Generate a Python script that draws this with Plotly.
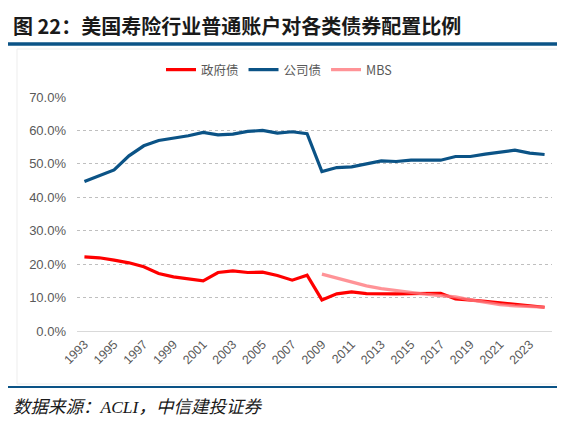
import plotly.graph_objects as go

years = list(range(1993, 2025))
gov = [22.2, 21.9, 21.2, 20.4, 19.2, 17.2, 16.2, 15.6, 15.0, 17.5, 18.0, 17.5, 17.6, 16.6, 15.2, 16.7,
       9.3, 11.1, 11.7, 11.2, 11.1, 11.1, 11.2, 11.3, 11.3, 9.6, 9.3, 8.9, 8.4, 8.0, 7.7, 7.1]
corp = [44.7, 46.4, 48.2, 52.4, 55.4, 57.0, 57.7, 58.4, 59.4, 58.7, 58.9, 59.7, 60.0, 59.2, 59.6, 59.0,
        47.7, 48.9, 49.1, 49.9, 50.9, 50.7, 51.1, 51.1, 51.1, 52.2, 52.2, 52.9, 53.5, 54.1, 53.2, 52.8]
mbs_years = list(range(2009, 2025))
mbs = [17.0, 15.8, 14.6, 13.5, 12.7, 12.1, 11.4, 11.0, 10.6, 10.2, 9.3, 8.5, 7.9, 7.5, 7.3, 7.1]
series_names = ["政府债", "公司债", "MBS"]
y_ticks = [0, 10, 20, 30, 40, 50, 60, 70]
x_ticks = list(range(1993, 2024, 2))

title = "图 22：美国寿险行业普通账户对各类债券配置比例"
source = "数据来源：ACLI，中信建投证券"

fig = go.Figure()
fig.add_trace(go.Scatter(x=years, y=gov, name=series_names[0], mode="lines",
                         line=dict(color="#FF0000", width=3.2)))
fig.add_trace(go.Scatter(x=years, y=corp, name=series_names[1], mode="lines",
                         line=dict(color="#0B5386", width=3.2)))
fig.add_trace(go.Scatter(x=mbs_years, y=mbs, name=series_names[2], mode="lines",
                         line=dict(color="rgba(255,120,125,0.8)", width=3.2)))

cjk = "Noto Sans CJK SC, sans-serif"
OFF = 8  # page offset of the figure
L, R, T, B = 77 - OFF, 565 - (552 - OFF), 97 - OFF, 426 - (331 - OFF)
PW, PH = 565 - L - R, 426 - T - B


def fx(sx):
    return (sx - OFF - L) / PW


def fy(sy):
    return (426 - B - (sy - OFF)) / PH


fig.update_layout(
    width=565, height=426,
    margin=dict(l=L, r=R, t=T, b=B, autoexpand=False),
    paper_bgcolor="white", plot_bgcolor="white",
    showlegend=True,
    legend=dict(orientation="h", xref="paper", yref="paper",
                x=fx(279), y=fy(70), xanchor="center", yanchor="middle",
                font=dict(family=cjk, size=12.5, color="#595959"),
                itemwidth=30, tracegroupgap=0, bgcolor="rgba(0,0,0,0)"),
    xaxis=dict(range=[1992.5, 2024.5], tickmode="array", tickvals=x_ticks,
               ticktext=[str(v) for v in x_ticks], tickangle=-45,
               tickfont=dict(family="Liberation Sans, Arial", size=12.5, color="#595959"),
               showgrid=False, showline=True, linecolor="#D9D9D9", linewidth=1.3,
               ticks="", zeroline=False, fixedrange=True, automargin=False),
    yaxis=dict(range=[0, 70], tickmode="array", tickvals=y_ticks,
               ticktext=[f"{v:.1f}%" for v in y_ticks],
               tickfont=dict(family="Liberation Sans, Arial", size=13, color="#595959"),
               showgrid=True, gridcolor="#BFBFBF", griddash="dot", gridwidth=1,
               zeroline=False, showline=False, ticks="", ticklabelstandoff=10,
               fixedrange=True, automargin=False),
    annotations=[
        dict(text="<b>" + title + "</b>", xref="paper", yref="paper",
             x=fx(11), y=fy(25), xanchor="left", yanchor="middle",
             showarrow=False, font=dict(family=cjk, size=20, color="#1A1A1A")),
        dict(text="<i>" + source + "</i>", xref="paper", yref="paper",
             x=fx(11), y=fy(407), xanchor="left", yanchor="middle",
             showarrow=False,
             font=dict(family="Liberation Serif, " + cjk, size=17.5, color="#1A1A1A")),
    ],
    shapes=[
        dict(type="line", xref="paper", yref="paper", x0=fx(0), x1=fx(600),
             y0=fy(44), y1=fy(44), line=dict(color="#0B5386", width=3.5)),
        dict(type="line", xref="paper", yref="paper", x0=fx(0), x1=fx(600),
             y0=fy(387), y1=fy(387), line=dict(color="#0B5386", width=2)),
        dict(type="rect", xref="paper", yref="paper", x0=fx(17), x1=fx(600),
             y0=fy(384), y1=fy(49), line=dict(color="#EDEDED", width=1)),
    ],
)

fig.write_html("out.html")
